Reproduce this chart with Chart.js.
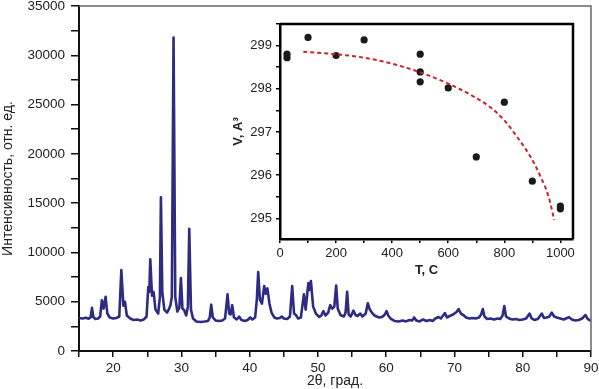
<!DOCTYPE html>
<html>
<head>
<meta charset="utf-8">
<script src="https://cdn.jsdelivr.net/npm/chart.js@4"></script>
<style>
  html, body { margin: 0; padding: 0; background: #fff; }
  #wrap { position: relative; width: 599px; height: 389px; }
  #mainChart { position: absolute; left: 0; top: 0; }
  #insetChart { position: absolute; left: 225px; top: 15px; }
</style>
</head>
<body>
<div id="wrap">
  <canvas id="mainChart" width="599" height="389"></canvas>
  <canvas id="insetChart" width="360" height="270"></canvas>
</div>
<script>
// XRD pattern
const twoTheta = [
  15.0, 15.5, 16.0, 16.4, 16.7, 16.9, 17.1, 17.4, 17.8, 18.1, 18.35, 18.6, 18.9, 19.15, 19.5,
  20.0, 20.5, 20.9, 21.2, 21.5, 21.73, 22.0, 22.5, 23.0, 23.5, 24.0, 24.5, 24.9, 25.15, 25.3,
  25.44, 25.7, 25.93, 26.2, 26.6, 26.85, 27.0, 27.2, 27.5, 27.9, 28.2, 28.4, 28.6, 28.85, 29.1,
  29.4, 29.7, 29.93, 30.15, 30.4, 30.7, 30.95, 31.15, 31.4, 31.7, 32.2, 32.8, 33.4, 33.9, 34.15,
  34.37, 34.6, 35.0, 35.5, 36.0, 36.4, 36.76, 37.0, 37.2, 37.44, 37.7, 38.1, 38.47, 38.8, 39.3,
  39.7, 40.08, 40.4, 40.8, 41.05, 41.25, 41.5, 41.8, 42.13, 42.35, 42.6, 42.9, 43.2, 43.6, 44.0,
  44.4, 44.7, 45.0, 45.5, 45.9, 46.23, 46.5, 46.77, 47.1, 47.5, 47.94, 48.2, 48.6, 48.8, 48.97,
  49.3, 49.7, 50.2, 50.5, 50.8, 51.1, 51.5, 51.8, 52.1, 52.4, 52.67, 52.9, 53.3, 53.8, 54.05,
  54.28, 54.5, 54.8, 55.2, 55.5, 55.8, 56.2, 56.5, 57.0, 57.3, 57.6, 57.9, 58.3, 58.6, 59.0,
  59.4, 59.8, 60.05, 60.3, 60.7, 61.2, 61.8, 62.4, 62.9, 63.4, 63.8, 64.1, 64.4, 64.9, 65.4,
  65.9, 66.4, 66.8, 67.2, 67.65, 68.0, 68.6, 68.9, 69.3, 69.8, 70.3, 70.6, 71.0, 71.3, 71.7,
  72.2, 72.7, 73.1, 73.6, 73.9, 74.15, 74.4, 74.8, 75.3, 75.8, 76.3, 76.7, 77.05, 77.3, 77.55,
  78.0, 78.5, 79.0, 79.5, 80.0, 80.5, 81.0, 81.3, 81.7, 82.2, 82.8, 83.1, 83.5, 83.9, 84.25,
  84.6, 85.0, 85.5, 86.0, 86.5, 86.8, 87.2, 87.7, 88.2, 88.7, 89.2, 89.5, 90.0
];
const intensity = [
  3350, 3300, 3380, 3280, 3400, 4380, 3450, 3250, 3300, 3500, 5150, 4300, 5500, 3800, 3400,
  3300, 3350, 3500, 8200, 4600, 5000, 3600, 3300, 3150, 3200, 3100, 3200, 3500, 6500, 6000,
  9300, 5600, 6000, 4200, 3800, 5500, 15600, 6000, 4200, 3900, 4300, 4650, 5500, 31800, 5500,
  4000, 4400, 7400, 4300, 4150, 3600, 4500, 12400, 4200, 3300, 3000, 2950, 3000, 3050, 3400,
  4700, 3400, 3100, 3050, 3100, 3300, 5750, 3800, 3700, 4650, 3400, 3200, 3480, 3150, 3050,
  3150, 3400, 3200, 3400, 5200, 8000, 5200, 4800, 6600, 5800, 6350, 4800, 3900, 3400, 3300,
  3350, 3500, 3300, 3250, 3500, 6600, 3800, 3650, 3300, 3400, 5750, 4200, 6900, 6200, 7100,
  4500, 3800, 3450, 3600, 4050, 3600, 3900, 4650, 4300, 4500, 6650, 4300, 3650, 3500, 3900,
  6000, 3700, 3500, 4100, 3650, 3550, 3800, 3500, 3800, 4850, 4200, 3900, 3600, 3500, 3400,
  3450, 3700, 4050, 3600, 3250, 3050, 3000, 3100, 3000, 3150, 3100, 3400, 3100, 3000, 3200,
  3050, 3150, 3050, 3300, 3450, 3300, 3850, 3400, 3550, 3700, 3950, 4250, 3750, 3650, 3400,
  3300, 3350, 3300, 3400, 3700, 4250, 3500, 3250, 3300, 3200, 3300, 3250, 3600, 4550, 3500,
  3300, 3200, 3250, 3150, 3200, 3300, 3800, 3300, 3150, 3250, 3800, 3350, 3400, 3500, 3900,
  3500, 3400, 3300, 3200, 3350, 3420, 3200, 3100, 3150, 3300, 3650, 3250, 3050
];

// inset: cell volume vs temperature
const insetT = [25, 25, 100, 200, 300, 500, 500, 500, 600, 700, 800, 900, 1000, 1000];
const insetV = [298.80, 298.72, 299.19, 298.77, 299.13, 298.80, 298.39, 298.16, 298.02, 296.42, 297.69, 295.86, 295.22, 295.28];
const fitT = [83, 200, 300, 400, 500, 600, 680, 750, 800, 845, 893, 929, 958, 978];
const fitV = [298.86, 298.80, 298.72, 298.58, 298.38, 298.12, 297.86, 297.57, 297.27, 296.89, 296.43, 295.97, 295.50, 294.96];

const mainTicksX = [20, 30, 40, 50, 60, 70, 80, 90];
const mainTicksY = [0, 5000, 10000, 15000, 20000, 25000, 30000, 35000];
const insetTicksX = [0, 200, 400, 600, 800, 1000];
const insetTicksY = [295, 296, 297, 298, 299];

const fontFam = "'Liberation Sans', Arial, sans-serif";
const textColor = '#222';

function zip(xs, ys) {
  return xs.map((x, i) => ({ x: x, y: ys[i] }));
}

// box lines on the top and right side of the plot area
const framePlugin = {
  id: 'frame',
  afterDraw(chart, args, opts) {
    const a = chart.chartArea;
    const c = chart.ctx;
    c.save();
    c.strokeStyle = opts.color;
    c.lineWidth = opts.width;
    c.beginPath();
    c.moveTo(a.left, a.top);
    c.lineTo(a.right, a.top);
    c.lineTo(a.right, a.bottom);
    c.stroke();
    c.restore();
  }
};

function fixSize(w, h) {
  return function (scale) {
    if (w !== null) scale.width = w;
    if (h !== null) scale.height = h;
    scale.paddingLeft = 0;
    scale.paddingRight = 0;
    scale.paddingTop = 0;
    scale.paddingBottom = 0;
  };
}

function onlyOn(step) {
  return function (scale) {
    scale.ticks = scale.ticks.filter(t => Math.abs(t.value / step - Math.round(t.value / step)) < 1e-6);
  };
}

const near = (list, v) => list.some(t => Math.abs(t - v) < 1e-6);

new Chart(document.getElementById('mainChart'), {
  type: 'scatter',
  data: {
    datasets: [{
      data: zip(twoTheta, intensity),
      showLine: true,
      borderColor: '#2e2b82',
      borderWidth: 2.6,
      borderJoinStyle: 'round',
      pointRadius: 0,
      tension: 0
    }]
  },
  plugins: [framePlugin],
  options: {
    responsive: false,
    animation: false,
    layout: { padding: { top: 6, right: 8, left: 0, bottom: 0 } },
    plugins: {
      legend: { display: false },
      tooltip: { enabled: false },
      frame: { color: '#666', width: 1.5 }
    },
    scales: {
      x: {
        type: 'linear',
        min: 15, max: 90,
        afterFit: fixSize(null, 38),
        afterBuildTicks: onlyOn(5),
        border: { display: true, color: '#111', width: 2 },
        grid: { drawOnChartArea: false, drawTicks: true, tickLength: 6, color: '#111', lineWidth: 1.5 },
        ticks: {
          stepSize: 5,
          includeBounds: false,
          autoSkip: false,
          maxRotation: 0,
          padding: 3,
          color: textColor,
          font: { family: fontFam, size: 13.5 },
          callback: v => near(mainTicksX, v) ? String(v) : ''
        },
        title: {
          display: true,
          text: '2θ, град.',
          color: textColor,
          padding: { top: 0, bottom: -1 },
          font: { family: fontFam, size: 14 }
        }
      },
      y: {
        type: 'linear',
        min: 0, max: 35000,
        afterFit: fixSize(79, null),
        afterBuildTicks: onlyOn(2500),
        border: { display: true, color: '#111', width: 2 },
        grid: { drawOnChartArea: false, drawTicks: true, tickLength: 8, color: '#111', lineWidth: 1.5 },
        ticks: {
          stepSize: 2500,
          includeBounds: false,
          autoSkip: false,
          padding: 6,
          color: textColor,
          font: { family: fontFam, size: 13.5 },
          callback: v => near(mainTicksY, v) ? String(v) : ''
        },
        title: {
          display: true,
          text: 'Интенсивность, отн. ед.',
          color: textColor,
          padding: { top: 0, bottom: 0 },
          font: { family: fontFam, size: 14 }
        }
      }
    }
  }
});

new Chart(document.getElementById('insetChart'), {
  type: 'scatter',
  data: {
    datasets: [{
      data: zip(fitT, fitV),
      showLine: true,
      borderColor: '#d0222c',
      borderWidth: 2,
      borderDash: [4, 3],
      pointRadius: 0,
      tension: 0.4,
      cubicInterpolationMode: 'monotone'
    }, {
      data: zip(insetT, insetV),
      backgroundColor: '#1a1a1a',
      borderColor: '#1a1a1a',
      pointRadius: 3.6,
      borderWidth: 0
    }]
  },
  plugins: [framePlugin],
  options: {
    responsive: false,
    animation: false,
    layout: { padding: { top: 9, right: 12, left: 0, bottom: 0 } },
    plugins: {
      legend: { display: false },
      tooltip: { enabled: false },
      frame: { color: '#000', width: 2.5 }
    },
    scales: {
      x: {
        type: 'linear',
        min: 0, max: 1045,
        afterFit: fixSize(null, 46),
        afterBuildTicks: onlyOn(100),
        border: { display: true, color: '#000', width: 2.5 },
        grid: { drawOnChartArea: false, drawTicks: true, tickLength: 4, color: '#000', lineWidth: 1.5 },
        ticks: {
          stepSize: 100,
          includeBounds: false,
          autoSkip: false,
          maxRotation: 0,
          padding: 3,
          color: textColor,
          font: { family: fontFam, size: 13 },
          callback: v => near(insetTicksX, v) ? String(Math.round(v)) : ''
        },
        title: {
          display: true,
          text: 'T, C',
          color: textColor,
          padding: { top: 0, bottom: 7 },
          font: { family: fontFam, size: 13, weight: 'bold' }
        }
      },
      y: {
        type: 'linear',
        min: 294.52, max: 299.5,
        afterFit: fixSize(55, null),
        afterBuildTicks: onlyOn(0.5),
        border: { display: true, color: '#000', width: 2.5 },
        grid: { drawOnChartArea: false, drawTicks: true, tickLength: 4, color: '#000', lineWidth: 1.5 },
        ticks: {
          stepSize: 0.5,
          includeBounds: false,
          autoSkip: false,
          padding: 4,
          color: textColor,
          font: { family: fontFam, size: 13 },
          callback: v => near(insetTicksY, v) ? String(Math.round(v)) : ''
        },
        title: {
          display: true,
          text: 'V, A³',
          color: textColor,
          padding: { top: 6, bottom: 0 },
          font: { family: fontFam, size: 13, weight: 'bold' }
        }
      }
    }
  }
});
</script>
</body>
</html>
